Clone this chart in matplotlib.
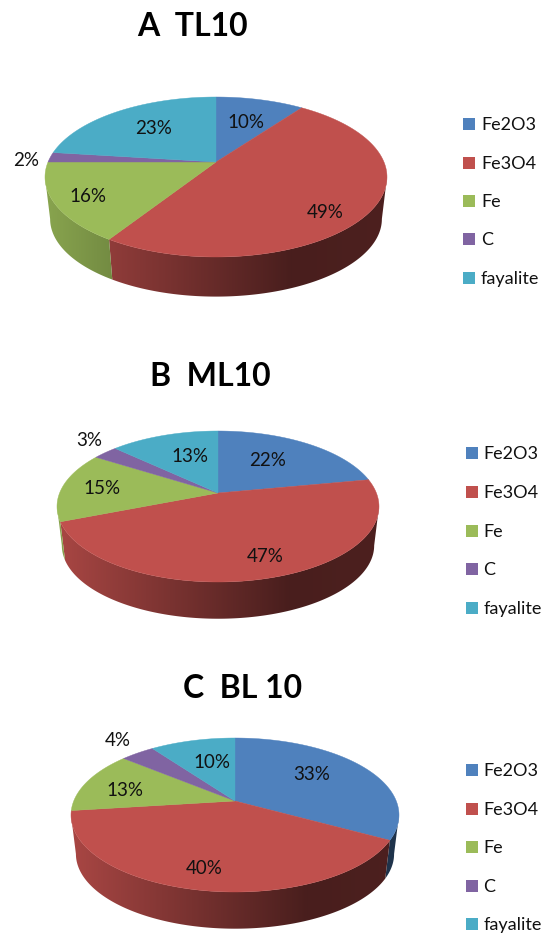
import numpy as np
import matplotlib
matplotlib.use('Agg')
import matplotlib.pyplot as plt
from matplotlib.patches import Polygon

plt.rcParams['font.family'] = ['Lato', 'DejaVu Sans']

components = ['Fe2O3', 'Fe3O4', 'Fe', 'C', 'fayalite']
colors = ['#4F81BD', '#C0504D', '#9BBB59', '#8064A2', '#4BACC6']

tl10 = [10, 49, 16, 2, 23]
ml10 = [22, 47, 15, 3, 13]
bl10 = [33, 40, 13, 4, 10]

titles = ['A  TL10', 'B  ML10', 'C  BL 10']

# layout of each pie in pixels: cx, cy, rx, ry, apex shift, wall depth
pie_a = (216, 177, 171, 80, 15, 42)
pie_b = (218, 506.5, 161, 75.5, 13.5, 39)
pie_c = (235, 815, 164, 77, 14, 39)

title_pos = [(192, 27), (210, 376), (243, 689)]
legend_x = [463, 465.5, 465.5]
legend_y = [[124, 163, 201, 239, 278],
            [453, 492, 531, 569, 608],
            [770, 809, 847, 886, 924]]
label_pos = [[(246, 123), (325, 212), (88, 197), (26, 160), (154, 128)],
             [(268, 460), (265, 557), (102, 489), (89, 440), (190, 457)],
             [(312, 775), (204, 869), (125, 791), (118, 741), (212, 763)]]


def project(theta, geom, scale=1.0, drop=0.0):
    # perspective view of the pie disc, theta runs clockwise from 12 o'clock
    cx, cy, rx, ry, shift, depth = geom
    c = shift / ry
    k = rx * np.sqrt(1 - c * c)
    X = np.sin(theta)
    Y = np.cos(theta)
    w = 1 + c * Y
    x = cx + scale * k * X / w
    v = (ry * Y + shift) / w
    y = cy + drop - scale * v
    return x, y


def wall_gradient(color, geom):
    # side wall gets darker going left to right
    f = np.linspace(0, 1, 256)
    b = np.interp(f, [0, 0.72, 1], [0.88, 0.38, 0.40])
    rgb = np.array(matplotlib.colors.to_rgb(color))
    return (b[:, None] * rgb)[None, :, :]


def draw_pie(ax, values, geom):
    cx, cy, rx, ry, shift, depth = geom
    c = shift / ry
    edges = np.cumsum([0] + values) / sum(values) * 2 * np.pi
    hidden = np.arccos(-c)

    # front wall first, the top face goes over it
    for i in range(len(values)):
        start = max(edges[i], hidden)
        end = min(edges[i + 1], 2 * np.pi - hidden)
        if end <= start:
            continue
        t = np.linspace(start, end, 150)
        tx, ty = project(t, geom)
        bx, by = project(t[::-1], geom, 0.97, depth)
        poly = Polygon(np.c_[np.r_[tx, bx], np.r_[ty, by]], closed=True,
                       transform=ax.transData, fc='none', ec='none')
        ax.add_patch(poly)
        im = ax.imshow(wall_gradient(colors[i], geom), aspect='auto', zorder=2,
                       extent=(cx - rx, cx + rx, cy + ry + depth + 5, cy - ry - 5))
        im.set_clip_path(poly)

    for i in range(len(values)):
        t = np.linspace(edges[i], edges[i + 1], 120)
        x, y = project(t, geom)
        ax.fill(np.r_[cx, x], np.r_[cy - shift, y], color=colors[i], lw=0.3, zorder=3)


fig = plt.figure(figsize=(5.45, 9.35), dpi=100)
ax = fig.add_axes([0, 0, 1, 1])

for n, (vals, geom) in enumerate(zip([tl10, ml10, bl10], [pie_a, pie_b, pie_c])):
    draw_pie(ax, vals, geom)

    tx, ty = title_pos[n]
    ax.text(tx, ty, titles[n], fontsize=23, fontweight='bold', ha='center', va='center', color='black')

    for (lx, ly), v in zip(label_pos[n], vals):
        ax.text(lx, ly, f'{v}%', fontsize=13.5, ha='center', va='center', color='#111111', zorder=5)

    for name, col, ly in zip(components, colors, legend_y[n]):
        ax.fill([legend_x[n], legend_x[n] + 12, legend_x[n] + 12, legend_x[n]],
                [ly - 6, ly - 6, ly + 6, ly + 6], color=col, lw=0)
        ax.text(legend_x[n] + 18, ly + 1, name, fontsize=13, ha='left', va='center', color='#111111', clip_on=True)

# imshow resets the limits, so set them last
ax.set_xlim(0, 545)
ax.set_ylim(935, 0)
ax.axis('off')

fig.savefig('out.png', dpi=100)
